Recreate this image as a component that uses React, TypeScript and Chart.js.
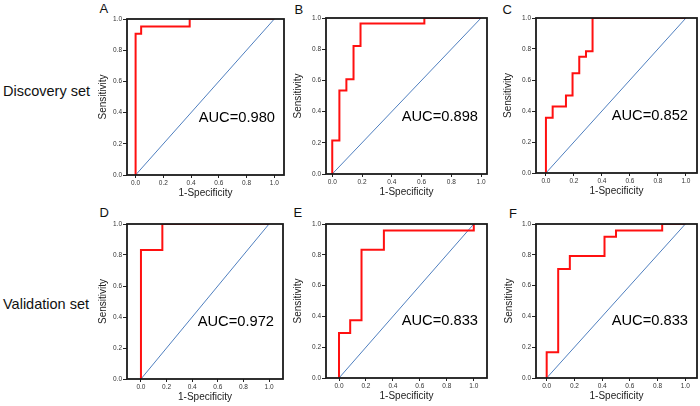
import React, { useEffect, useRef } from "react";
import { Chart, registerables } from "chart.js";

Chart.register(...registerables);

// ---- data ----
const tickValues = [0, 0.2, 0.4, 0.6, 0.8, 1.0];
const diagonalFpr = [0, 1];
const diagonalTpr = [0, 1];

const rowLabels = ["Discovery set", "Validation set"];
const panelLetters = ["A", "B", "C", "D", "E", "F"];
const aucLabels = ["AUC=0.980", "AUC=0.898", "AUC=0.852", "AUC=0.972", "AUC=0.833", "AUC=0.833"];

// ROC operating points (1-Specificity, Sensitivity)
const fprA = [0, 0, 0.04, 0.39, 1];
const tprA = [0, 0.905, 0.952, 1, 1];

const fprB = [0, 0, 0.048, 0.095, 0.143, 0.19, 0.619, 1];
const tprB = [0, 0.214, 0.536, 0.607, 0.821, 0.964, 1, 1];

const fprC = [0, 0, 0.048, 0.143, 0.19, 0.238, 0.286, 0.333, 1];
const tprC = [0, 0.357, 0.429, 0.5, 0.643, 0.75, 0.786, 1, 1];

const fprD = [0, 0, 0.167, 1];
const tprD = [0, 0.833, 1, 1];

const fprE = [0, 0, 0.083, 0.167, 0.333, 1];
const tprE = [0, 0.292, 0.375, 0.833, 0.958, 1];

const fprF = [0, 0, 0.083, 0.167, 0.417, 0.5, 0.833, 1];
const tprF = [0, 0.167, 0.708, 0.792, 0.917, 0.958, 1, 1];

const rocFpr = [fprA, fprB, fprC, fprD, fprE, fprF];
const rocTpr = [tprA, tprB, tprC, tprD, tprE, tprF];

// ---- layout (plot-box geometry, axis ranges) ----
const panelGeom = [
  { L: 127, R: 284, T: 19, B: 175, yW: 34, xMin: -0.062, xMax: 1.07 },
  { L: 326, R: 487, T: 18, B: 174, yW: 38, xMin: -0.042, xMax: 1.04 },
  { L: 536, R: 697, T: 18, B: 173, yW: 38, xMin: -0.071, xMax: 1.079 },
  { L: 127, R: 283, T: 224, B: 379, yW: 34, xMin: -0.109, xMax: 1.109 },
  { L: 326, R: 487, T: 224, B: 378, yW: 38, xMin: -0.0965, xMax: 1.098 },
  { L: 536, R: 697, T: 224, B: 378, yW: 37, xMin: -0.077, xMax: 1.084 },
];
const letterPos = [
  { x: 99.5, y: 2.3 },
  { x: 294.5, y: 3.3 },
  { x: 502.5, y: 3.3 },
  { x: 99.5, y: 206.3 },
  { x: 293.5, y: 205.6 },
  { x: 509, y: 206.6 },
];
const rowLabelTop = [84.1, 297.1];

const FONT = '"Liberation Sans", Arial, Helvetica, sans-serif';
const PAD_TOP = 6;
const PAD_RIGHT = 8;
const X_AXIS_H = 24;

function Panel({ idx }: { idx: number }) {
  const ref = useRef<HTMLCanvasElement | null>(null);
  const g = panelGeom[idx];
  const width = g.yW + (g.R - g.L) + PAD_RIGHT;
  const height = PAD_TOP + (g.B - g.T) + X_AXIS_H;

  useEffect(() => {
    const canvas = ref.current;
    if (!canvas) return;
    const aucText = aucLabels[idx];
    const boxPlugin = {
      id: "rocBox" + idx,
      afterDatasetsDraw(chart: any) {
        const { ctx, chartArea: a } = chart;
        ctx.save();
        ctx.strokeStyle = "#1a1a1a";
        ctx.lineWidth = 1.8;
        ctx.strokeRect(a.left, a.top, a.right - a.left, a.bottom - a.top);
        ctx.font = "14.7px " + FONT;
        ctx.fillStyle = "#000";
        ctx.textAlign = "right";
        ctx.textBaseline = "alphabetic";
        ctx.fillText(aucText, a.right - 9, a.bottom - 53.5);
        ctx.restore();
      },
    };
    const roc = rocFpr[idx].map((x, i) => ({ x, y: rocTpr[idx][i] }));
    const diag = diagonalFpr.map((x, i) => ({ x, y: diagonalTpr[i] }));
    const setTicks = (scale: any) => {
      scale.ticks = tickValues.map((v) => ({ value: v }));
    };
    const chart = new Chart(canvas, {
      type: "scatter",
      data: {
        datasets: [
          {
            data: roc,
            showLine: true,
            stepped: "before",
            borderColor: "#ff1010",
            borderWidth: 2,
            pointRadius: 0,
            clip: 0,
          } as any,
          {
            data: diag,
            showLine: true,
            borderColor: "#4f7fbf",
            borderWidth: 1,
            pointRadius: 0,
          } as any,
        ],
      },
      options: {
        responsive: false,
        animation: false,
        devicePixelRatio: 1,
        events: [],
        layout: { padding: { top: PAD_TOP, right: PAD_RIGHT, left: 0, bottom: 0 } },
        plugins: { legend: { display: false }, tooltip: { enabled: false } },
        scales: {
          x: {
            type: "linear",
            min: g.xMin,
            max: g.xMax,
            afterBuildTicks: setTicks,
            afterFit: (s: any) => {
              s.height = X_AXIS_H;
              s.paddingLeft = 0;
              s.paddingRight = 0;
            },
            border: { display: false },
            grid: {
              display: true,
              drawOnChartArea: false,
              drawTicks: true,
              tickLength: 3,
              tickColor: "#222",
            },
            ticks: {
              padding: 1,
              maxRotation: 0,
              autoSkip: false,
              color: "#333",
              font: { family: FONT, size: 6.5 },
              callback: (v: any) => Number(v).toFixed(1),
            },
            title: {
              display: true,
              text: "1-Specificity",
              color: "#222",
              font: { family: FONT, size: 10 },
              padding: { top: 0, bottom: 0 },
            },
          },
          y: {
            type: "linear",
            min: 0,
            max: 1,
            afterBuildTicks: setTicks,
            afterFit: (s: any) => {
              s.width = g.yW;
              s.paddingTop = 0;
              s.paddingBottom = 0;
            },
            border: { display: false },
            grid: {
              display: true,
              drawOnChartArea: false,
              drawTicks: true,
              tickLength: 4,
              tickColor: "#222",
            },
            ticks: {
              padding: 1,
              autoSkip: false,
              color: "#333",
              font: { family: FONT, size: 6.5 },
              callback: (v: any) => Number(v).toFixed(1),
            },
            title: {
              display: true,
              text: "Sensitivity",
              color: "#222",
              font: { family: FONT, size: 10 },
              padding: { top: 4, bottom: 0 },
            },
          },
        },
      },
      plugins: [boxPlugin as any],
    });
    return () => chart.destroy();
  }, [idx]);

  return (
    <canvas
      ref={ref}
      width={width}
      height={height}
      style={{
        position: "absolute",
        left: g.L - g.yW,
        top: g.T - PAD_TOP,
        width,
        height,
      }}
    />
  );
}

export default function App() {
  return (
    <div
      style={{
        position: "absolute",
        left: 0,
        top: 0,
        width: 700,
        height: 406,
        background: "#fff",
        overflow: "hidden",
        fontFamily: FONT,
      }}
    >
      {rowLabels.map((t, i) => (
        <div
          key={t}
          style={{
            position: "absolute",
            left: 3,
            top: rowLabelTop[i],
            fontSize: 14.5,
            lineHeight: "14.5px",
            whiteSpace: "nowrap",
            color: "#111",
          }}
        >
          {t}
        </div>
      ))}
      {panelLetters.map((t, i) => (
        <div
          key={t}
          style={{
            position: "absolute",
            left: letterPos[i].x,
            top: letterPos[i].y,
            fontSize: 13,
            lineHeight: "13px",
            color: "#111",
          }}
        >
          {t}
        </div>
      ))}
      {panelGeom.map((_, i) => (
        <Panel key={i} idx={i} />
      ))}
    </div>
  );
}
